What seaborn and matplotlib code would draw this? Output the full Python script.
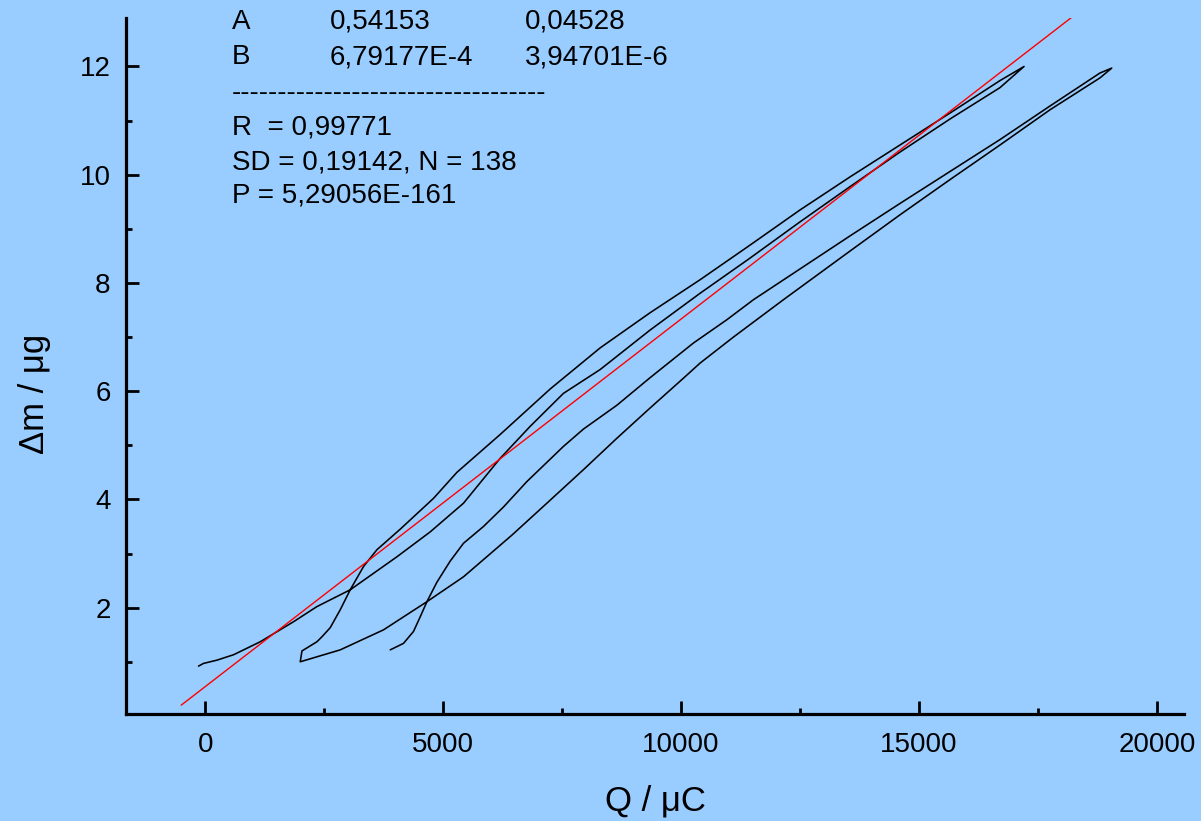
import pandas as pd
import matplotlib
matplotlib.use("Agg")
import matplotlib.pyplot as plt
import seaborn as sns
from matplotlib.ticker import MultipleLocator

# Trace: charge Q (uC) vs mass change dm (ug)
# first loop, forward branch
q_a = [-141, -36, 246, 595, 1156, 1855, 2347, 3046, 4028, 4727, 5427, 6198, 6828,
       7528, 8299, 9349, 10400, 11450, 12501, 13551, 14602, 15652, 16703, 17207]
m_a = [0.92, 0.97, 1.03, 1.13, 1.37, 1.74, 2.02, 2.33, 2.94, 3.40, 3.93, 4.76, 5.35,
       5.96, 6.40, 7.13, 7.81, 8.46, 9.13, 9.78, 10.42, 11.03, 11.61, 12.00]
# first loop, return branch
q_b = [16703, 15652, 14602, 13551, 12501, 11450, 10400, 9349, 8299, 7248, 6198,
       5288, 4797, 4097, 3607, 3326, 3046, 2836, 2626, 2450, 2347, 2032]
m_b = [11.74, 11.14, 10.55, 9.96, 9.35, 8.70, 8.06, 7.45, 6.80, 6.04, 5.20,
       4.50, 4.02, 3.45, 3.07, 2.76, 2.33, 1.96, 1.63, 1.46, 1.37, 1.20]
# second loop, forward branch
q_c = [1996, 2836, 3746, 4658, 5427, 6444, 7179, 7948, 8650, 9349, 10049, 10400,
       11100, 12150, 13551, 14602, 15652, 16703, 17753, 18804, 19050]
m_c = [1.00, 1.22, 1.59, 2.11, 2.57, 3.34, 3.93, 4.55, 5.13, 5.69, 6.24, 6.52,
       7.00, 7.69, 8.59, 9.26, 9.91, 10.55, 11.20, 11.79, 11.97]
# second loop, return branch
q_d = [18804, 17753, 16703, 15652, 14602, 13551, 12501, 11520, 10961, 10259, 9349,
       8650, 7948, 7528, 6759, 6267, 5847, 5427, 5147, 4868, 4658, 4517, 4376, 4166, 3887]
m_d = [11.88, 11.27, 10.65, 10.06, 9.47, 8.87, 8.26, 7.69, 7.32, 6.89, 6.25,
       5.74, 5.30, 4.98, 4.33, 3.86, 3.50, 3.19, 2.86, 2.47, 2.11, 1.83, 1.56, 1.34, 1.22]

# linear fit y = A + B*x
fit_a = 0.54153
fit_b = 6.79177e-4
fit_q = [-505, 18500]

stats_rows = [["A", "0,54153", "0,04528"],
              ["B", "6,79177E-4", "3,94701E-6"]]
stats_lines = ["R  = 0,99771", "SD = 0,19142, N = 138", "P = 5,29056E-161"]

x_ticks = [0, 5000, 10000, 15000, 20000]
y_ticks = [2, 4, 6, 8, 10, 12]

bg = "#99CCFF"
sns.set_style("ticks")
plt.rcParams["font.family"] = ["Liberation Sans", "DejaVu Sans"]
plt.rcParams["text.color"] = "black"
plt.rcParams["axes.labelcolor"] = "black"
plt.rcParams["xtick.color"] = "black"
plt.rcParams["ytick.color"] = "black"

trace = pd.DataFrame({"Q": q_a + q_b + q_c + q_d, "dm": m_a + m_b + m_c + m_d})

fig = plt.figure(figsize=(12.01, 8.21), dpi=100, facecolor=bg)
ax = fig.add_axes([0.1049, 0.130, 0.8812, 0.8477])
ax.set_facecolor(bg)

sns.lineplot(data=trace, x="Q", y="dm", sort=False, estimator=None,
             color="black", linewidth=1.15, ax=ax)
sns.lineplot(x=fit_q, y=[fit_a + fit_b * q for q in fit_q], color="red",
             linewidth=1.0, ax=ax)

ax.set_xlim(-1666, 20575)
ax.set_ylim(0.03, 12.89)
ax.set_xticks(x_ticks)
ax.set_yticks(y_ticks)
ax.xaxis.set_minor_locator(MultipleLocator(2500))
ax.yaxis.set_minor_locator(MultipleLocator(1))

for s in ["top", "right"]:
    ax.spines[s].set_visible(False)
for s in ["left", "bottom"]:
    ax.spines[s].set_linewidth(2.3)
    ax.spines[s].set_color("black")

ax.tick_params(which="major", direction="in", length=9.3, width=2, labelsize=20)
ax.tick_params(which="minor", direction="in", length=4.5, width=2)
ax.tick_params(axis="x", which="major", pad=13)
ax.tick_params(axis="y", which="major", pad=11)

ax.set_xlabel("Q / μC", fontsize=25)
ax.set_ylabel("Δm / μg", fontsize=25)
ax.xaxis.label.set_va("center")
ax.yaxis.label.set_va("center")
ax.xaxis.set_label_coords(0.5, -0.125)
ax.yaxis.set_label_coords(-0.086, 0.46)

# fit results box
row_y = [0.9947, 0.9444]
for yy, row in zip(row_y, stats_rows):
    for xx, txt in zip([0.1002, 0.1928, 0.3771], row):
        ax.text(xx, yy, txt, transform=ax.transAxes, fontsize=20, va="center")
ax.text(0.1002, 0.8927, "-" * 34, transform=ax.transAxes, fontsize=20, va="center")
for yy, txt in zip([0.8424, 0.7935, 0.7447], stats_lines):
    ax.text(0.1002, yy, txt, transform=ax.transAxes, fontsize=20, va="center")

fig.savefig("out.png", dpi=100, facecolor=bg)
